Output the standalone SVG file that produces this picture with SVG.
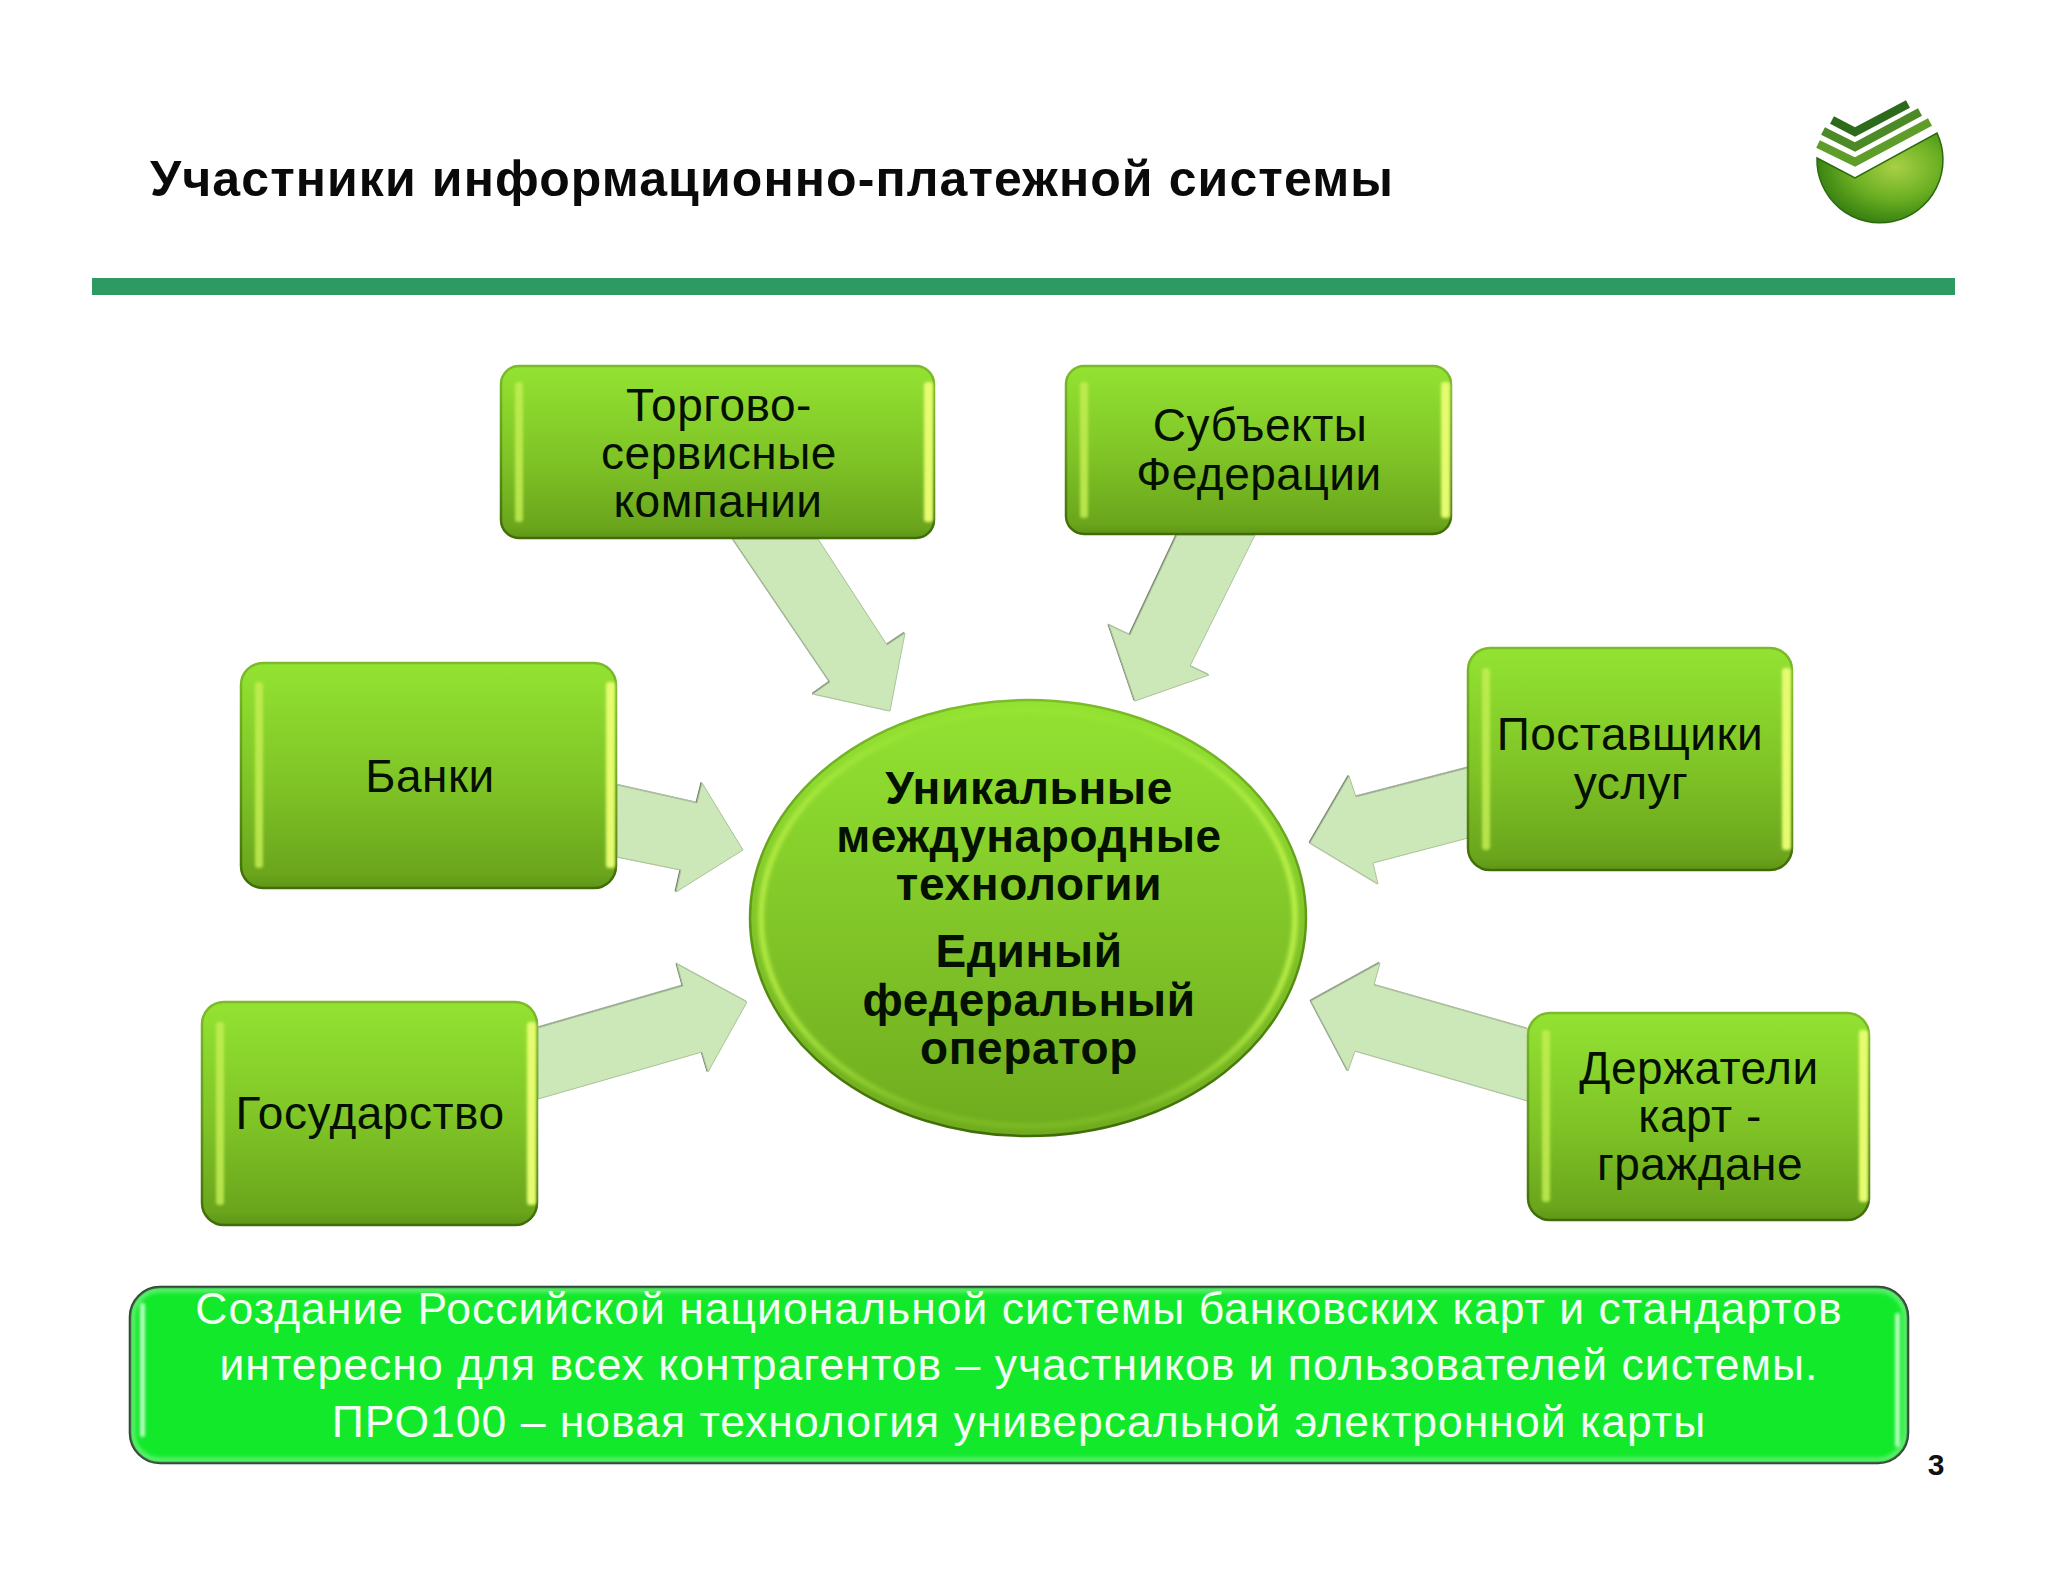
<svg xmlns="http://www.w3.org/2000/svg" width="2048" height="1582" viewBox="0 0 2048 1582">
<style>
text{font-family:"Liberation Sans",Arial,sans-serif}
.t{font-size:46px;letter-spacing:.5px;fill:#041000;text-anchor:middle}
.b{font-size:46px;letter-spacing:.6px;font-weight:bold;fill:#041000;text-anchor:middle}
.w{font-size:44.5px;letter-spacing:1px;fill:#f2fff2;text-anchor:middle}
.box{fill:url(#g);stroke:url(#edge);stroke-width:2.5}
.bar{fill:#c4ee52;filter:url(#s);opacity:.85}
.bar2{fill:#e6fb70;filter:url(#s)}
.arr{fill:#cde8b8;stroke:#aac49a;stroke-width:1;stroke-linejoin:miter;filter:url(#ds)}
</style>
<defs>
<linearGradient id="g" x1="0" y1="0" x2="0" y2="1"><stop offset="0" stop-color="#93e332"/><stop offset=".55" stop-color="#7fc326"/><stop offset=".94" stop-color="#6aa51c"/><stop offset="1" stop-color="#5f9616"/></linearGradient>
<linearGradient id="oval" x1="0" y1="0" x2="0" y2="1"><stop offset="0" stop-color="#93e332"/><stop offset=".55" stop-color="#80c428"/><stop offset="1" stop-color="#6fab1e"/></linearGradient>
<linearGradient id="edge" x1="0" y1="0" x2="0" y2="1"><stop offset="0" stop-color="#7dbb2a"/><stop offset=".5" stop-color="#5f9a18"/><stop offset="1" stop-color="#3f6c08"/></linearGradient>
<linearGradient id="rim" x1="0" y1="0" x2="1" y2="0"><stop offset="0" stop-color="#bdf248" stop-opacity=".95"/><stop offset=".3" stop-color="#a7ec3e" stop-opacity=".25"/><stop offset=".7" stop-color="#a7ec3e" stop-opacity=".25"/><stop offset="1" stop-color="#c8f850" stop-opacity=".95"/></linearGradient>
<radialGradient id="bowl" cx=".62" cy=".38" r=".7"><stop offset="0" stop-color="#a9d044"/><stop offset=".5" stop-color="#6cb024"/><stop offset="1" stop-color="#2c760c"/></radialGradient>
<filter id="s" x="-80%" y="-10%" width="260%" height="120%"><feGaussianBlur stdDeviation="1.8"/></filter>
<filter id="r" x="-5%" y="-5%" width="110%" height="110%"><feGaussianBlur stdDeviation="2"/></filter>
<filter id="l" x="-5%" y="-5%" width="110%" height="110%"><feGaussianBlur stdDeviation=".7"/></filter>
<filter id="ds" x="-5%" y="-5%" width="110%" height="110%"><feDropShadow dx="-1" dy="-.6" stdDeviation=".5" flood-color="#4a5a40" flood-opacity=".8"/></filter>
</defs>
<rect width="2048" height="1582" fill="#fff"/>
<g id="title"><text x="150" y="196" fill="#0a0a0a" font-weight="bold" style="font-size:50px;letter-spacing:1.1px">Участники информационно-платежной системы</text></g>
<rect id="rule" x="92" y="278" width="1863" height="17" fill="#2e9a63"/>
<g id="logo" filter="url(#l)">
<path d="M1817 158 L1855 178 L1937 133 A63 63 0 1 1 1817 158Z" fill="url(#bowl)" stroke="#2a6a0c" stroke-width="1.5"/>
<g fill="none" stroke-width="8.5">
<path d="M1832 120 L1855 132 L1908 104" stroke="#2f6a1c"/>
<path d="M1823 131 L1855 147 L1920 112" stroke="#4c8a28"/>
<path d="M1818 144 L1855 162 L1930 122" stroke="#5e9c2a"/>
</g>
</g>
<g id="connectors">
<polygon class="arr" points="733,539 818,539 887,645 905,633 890,711 813,694 830,682"/>
<polygon class="arr" points="1177,535 1255,535 1190,666 1209,675 1135,701 1109,625 1130,635"/>
<polygon class="arr" points="617,785 697,803 702,783 743,850 676,892 681,870 617,857"/>
<polygon class="arr" points="538,1028 683,986 677,964 747,1002 708,1072 702,1052 538,1099"/>
<polygon class="arr" points="1468,768 1356,797 1349,776 1310,843 1378,884 1373,863 1468,838"/>
<polygon class="arr" points="1528,1029 1374,985 1380,963 1311,1001 1348,1071 1355,1051 1528,1101"/>
</g>
<g id="n-trade">
<rect class="box" x="501" y="366" width="433" height="172" rx="18"/>
<rect class="bar" x="515" y="382" width="8" height="140" rx="3"/><rect class="bar2" x="924" y="382" width="9" height="140" rx="3"/>
<text class="t" x="719" y="421">Торгово-</text><text class="t" x="719" y="469">сервисные</text><text class="t" x="718" y="517">компании</text>
</g>
<g id="n-subjects">
<rect class="box" x="1066" y="366" width="385" height="168" rx="18"/>
<rect class="bar" x="1080" y="382" width="8" height="136" rx="3"/><rect class="bar2" x="1441" y="382" width="9" height="136" rx="3"/>
<text class="t" x="1260" y="441">Субъекты</text><text class="t" x="1259" y="490">Федерации</text>
</g>
<g id="n-banks">
<rect class="box" x="241" y="663" width="375" height="225" rx="22"/>
<rect class="bar" x="255" y="682" width="8" height="186" rx="3"/><rect class="bar2" x="606" y="682" width="9" height="186" rx="3"/>
<text class="t" x="430" y="792">Банки</text>
</g>
<g id="n-suppliers">
<rect class="box" x="1468" y="648" width="324" height="222" rx="22"/>
<rect class="bar" x="1482" y="668" width="8" height="182" rx="3"/><rect class="bar2" x="1782" y="668" width="9" height="182" rx="3"/>
<text class="t" x="1630" y="750">Поставщики</text><text class="t" x="1631" y="799">услуг</text>
</g>
<g id="n-state">
<rect class="box" x="202" y="1002" width="335" height="223" rx="22"/>
<rect class="bar" x="216" y="1022" width="8" height="183" rx="3"/><rect class="bar2" x="527" y="1022" width="9" height="183" rx="3"/>
<text class="t" x="370" y="1129">Государство</text>
</g>
<g id="n-holders">
<rect class="box" x="1528" y="1013" width="341" height="207" rx="22"/>
<rect class="bar" x="1542" y="1030" width="8" height="172" rx="3"/><rect class="bar2" x="1859" y="1030" width="9" height="172" rx="3"/>
<text class="t" x="1699" y="1084">Держатели</text><text class="t" x="1700" y="1132">карт -</text><text class="t" x="1700" y="1180">граждане</text>
</g>
<g id="n-center">
<ellipse cx="1028" cy="918" rx="278" ry="218" fill="url(#oval)" stroke="url(#edge)" stroke-width="2.5"/>
<ellipse cx="1028" cy="918" rx="267" ry="208" fill="none" stroke="url(#rim)" stroke-width="5" filter="url(#r)"/>
<text class="b" x="1029" y="804">Уникальные</text><text class="b" x="1029" y="852">международные</text><text class="b" x="1029" y="900">технологии</text>
<text class="b" x="1029" y="967">Единый</text><text class="b" x="1029" y="1016">федеральный</text><text class="b" x="1029" y="1064">оператор</text>
</g>
<g id="n-note">
<rect x="130" y="1287" width="1778" height="176" rx="30" fill="#12e92b" stroke="#222" stroke-width="2.5"/>
<rect x="133" y="1290" width="1772" height="170" rx="27" fill="none" stroke="#8cf59a" stroke-width="3" filter="url(#r)"/>
<rect x="140" y="1303" width="5" height="134" rx="2" fill="#b4fbbc" filter="url(#s)"/><rect x="1895" y="1313" width="5" height="134" rx="2" fill="#b4fbbc" filter="url(#s)"/>
<text class="w" x="1019" y="1324">Создание Российской национальной системы банковских карт и стандартов</text>
<text class="w" x="1019" y="1380">интересно для всех контрагентов – участников и пользователей системы.</text>
<text class="w" x="1019" y="1437">ПРО100 – новая технология универсальной электронной карты</text>
</g>
<text id="page" x="1936" y="1475" font-weight="bold" style="font-size:30px" fill="#111" text-anchor="middle">3</text>
</svg>
